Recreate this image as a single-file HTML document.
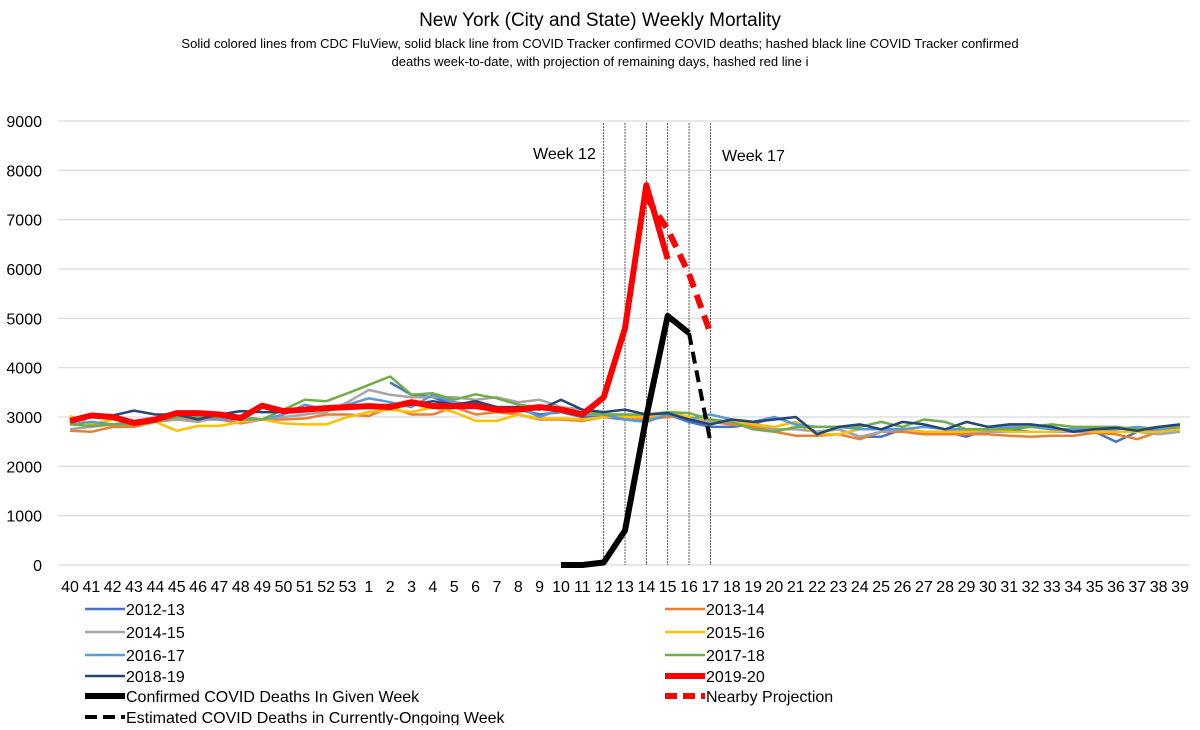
<!DOCTYPE html>
<html><head><meta charset="utf-8">
<style>
body{margin:0;background:#fff;font-family:"Liberation Sans",sans-serif;}
svg text{font-family:"Liberation Sans",sans-serif;fill:#000;}
</style></head>
<body>
<svg id="chart" width="1200" height="725" viewBox="0 0 1200 725" xmlns="http://www.w3.org/2000/svg">
<rect width="1200" height="725" fill="#fff"/>
<text x="600" y="26" font-size="19" text-anchor="middle">New York (City and State) Weekly Mortality</text>
<text x="600" y="48" font-size="13" text-anchor="middle">Solid colored lines from CDC FluView, solid black line from COVID Tracker confirmed COVID deaths; hashed black line COVID Tracker confirmed</text>
<text x="600" y="66" font-size="13" text-anchor="middle">deaths week-to-date, with projection of remaining days, hashed red line i</text>
<g id="grid"></g><g id="vlines"></g><g id="series"></g><g id="axes"></g><g id="legend"></g>
<text x="533" y="159" font-size="16">Week 12</text>
<text x="722" y="161" font-size="16">Week 17</text>
</svg>
<script>
const weeks=[40,41,42,43,44,45,46,47,48,49,50,51,52,53,1,2,3,4,5,6,7,8,9,10,11,12,13,14,15,16,17,18,19,20,21,22,23,24,25,26,27,28,29,30,31,32,33,34,35,36,37,38,39];
const yTicks=[0,1000,2000,3000,4000,5000,6000,7000,8000,9000];
const markerWeeks=[12,13,14,15,16,17];
const N=null;
const s1213=[N,N,N,N,N,N,N,N,N,N,N,N,N,N,N,3700,3450,3400,3250,3300,3200,3150,3050,3100,3000,3000,2950,2900,3050,2900,2800,2800,2850,3000,2850,2700,2750,2600,2600,2750,2700,2700,2600,2750,2750,2700,2700,2700,2700,2500,2700,2750,2800];
const s1314=[2720,2700,2800,2800,2900,2950,2950,2950,2870,2950,2950,2970,3050,3050,3020,3200,3050,3050,3200,3050,3100,3050,2950,2950,2920,3000,3000,2950,3000,3000,2900,2850,2800,2700,2620,2620,2650,2550,2700,2700,2650,2650,2650,2650,2620,2600,2620,2620,2680,2650,2550,2700,2750];
const s1415=[2750,2800,2850,2900,2900,2950,2900,3000,2950,2950,3000,3050,3100,3300,3550,3450,3400,3400,3400,3350,3400,3300,3350,3200,3150,3050,3050,3000,3050,3000,2900,2900,2850,2750,2750,2700,2750,2600,2700,2750,2700,2700,2700,2700,2700,2700,2700,2700,2700,2700,2700,2650,2700];
const s1516=[3020,2850,2950,2900,2900,2720,2820,2820,2900,2950,2870,2850,2850,3000,3100,3150,3100,3200,3100,2920,2920,3050,2970,2970,2950,3000,3000,3000,3100,3000,2950,2900,2850,2800,2900,2650,2650,2750,2750,2750,2700,2700,2700,2750,2700,2700,2700,2750,2700,2700,2700,2700,2750];
const s1617=[2850,2900,2850,2900,2950,3000,3000,2950,2950,2950,3050,3250,3150,3250,3380,3300,3200,3450,3300,3250,3200,3200,3000,3150,3050,3050,2950,2900,3050,2950,3050,2950,2900,3000,2850,2800,2800,2750,2750,2750,2800,2750,2750,2750,2800,2800,2750,2750,2750,2750,2800,2750,2800];
const s1718=[2850,2820,2850,2850,2900,3000,3000,3000,3000,2950,3150,3350,3320,3480,3650,3820,3450,3480,3350,3460,3380,3250,3200,3100,3100,3050,3050,3050,3100,3080,2950,2900,2750,2700,2800,2800,2800,2800,2900,2800,2950,2900,2750,2750,2750,2800,2850,2800,2800,2800,2750,2800,2800];
const s1819=[2900,3050,3030,3130,3050,3050,2950,3050,3120,3100,3100,3150,3150,3200,3200,3250,3250,3320,3250,3320,3200,3200,3150,3350,3150,3100,3150,3050,3080,2950,2850,2950,2900,2950,3000,2650,2800,2850,2750,2900,2850,2750,2900,2800,2850,2850,2800,2700,2750,2780,2720,2800,2850];
const s1920=[2920,3030,3000,2880,2950,3080,3080,3050,2980,3230,3120,3150,3180,3200,3220,3200,3300,3220,3220,3220,3150,3150,3200,3150,3050,3400,4800,7700,6200,N,N,N,N,N,N,N,N,N,N,N,N,N,N,N,N,N,N,N,N,N,N,N,N];
const projWeeks=[14,15,16,17];
const projVals=[7450,6800,5900,4700];
const covidWeeks=[10,11,12,13,14,15,16];
const covidVals=[0,0,50,700,3000,5050,4700];
const estWeeks=[16,17];
const estVals=[4700,2500];

const NS="http://www.w3.org/2000/svg";
const x0=70,dx=(1180-70)/(weeks.length-1),yBase=565,yTop=121,yMax=9000;
const X=i=>x0+i*dx;
const XW=w=>X(weeks.indexOf(w));
const Y=v=>yBase-(v/yMax)*(yBase-yTop);
function mk(tag,attrs,parent){const e=document.createElementNS(NS,tag);for(const k in attrs)e.setAttribute(k,attrs[k]);parent.appendChild(e);return e;}
const grid=document.getElementById('grid'),axes=document.getElementById('axes'),ser=document.getElementById('series'),vl=document.getElementById('vlines'),leg=document.getElementById('legend');
yTicks.forEach(t=>{
  const l=mk('line',{x1:58,x2:1190,y1:Y(t),y2:Y(t),stroke:'#d9d9d9','stroke-width':1.2},grid);
  
  
  const tx=mk('text',{x:42,y:Y(t)+6,'font-size':16,'text-anchor':'end'},axes);tx.textContent=t;
  
  
});
weeks.forEach((w,i)=>{
  const tx=mk('text',{x:X(i),y:592,'font-size':16,'text-anchor':'middle'},axes);tx.textContent=w;
  
  
});
markerWeeks.forEach(w=>{
  const l=mk('line',{x1:XW(w),x2:XW(w),y1:123,y2:565,stroke:'#333','stroke-width':0.8,'stroke-dasharray':'2,1'},vl);
  
  
});
function pathFrom(xs,ys){let d='',pen=false;xs.forEach((x,i)=>{const v=ys[i];if(v===null){pen=false;return;}d+=(pen?'L':'M')+x.toFixed(1)+','+Y(v).toFixed(1);pen=true;});return d;}
const idx=weeks.map((w,i)=>X(i));
const series=[
 ['2012-13',s1213,'#4472C4',2.5,''],['2013-14',s1314,'#ED7D31',2.5,''],['2014-15',s1415,'#A5A5A5',2.5,''],['2015-16',s1516,'#FFC000',2.5,''],
 ['2016-17',s1617,'#5B9BD5',2.5,''],['2017-18',s1718,'#70AD47',2.5,''],['2018-19',s1819,'#264478',2.5,''],['2019-20',s1920,'#FF0000',6,'']];
series.forEach(s=>{
  const p=mk('path',{d:pathFrom(idx,s[1]),fill:'none',stroke:s[2],'stroke-width':s[3],'stroke-linejoin':'round'},ser);
  
  
});
let p=mk('path',{d:pathFrom(projWeeks.map(XW),projVals),fill:'none',stroke:'#FF0000','stroke-width':6,'stroke-dasharray':'14,8'},ser);


p=mk('path',{d:pathFrom(covidWeeks.map(XW),covidVals),fill:'none',stroke:'#000','stroke-width':6,'stroke-linejoin':'round'},ser);


p=mk('path',{d:pathFrom(estWeeks.map(XW),estVals),fill:'none',stroke:'#000','stroke-width':4,'stroke-dasharray':'12,7'},ser);


const legItems=[
 ['2012-13','#4472C4',2.5,'',85,609],['2013-14','#ED7D31',2.5,'',665,609],
 ['2014-15','#A5A5A5',2.5,'',85,632],['2015-16','#FFC000',2.5,'',665,632],
 ['2016-17','#5B9BD5',2.5,'',85,655],['2017-18','#70AD47',2.5,'',665,655],
 ['2018-19','#264478',2.5,'',85,676],['2019-20','#FF0000',6,'',665,676],
 ['Confirmed COVID Deaths In Given Week','#000',6,'',85,696],['Nearby Projection','#FF0000',6,'12,6',665,696],
 ['Estimated COVID Deaths in Currently-Ongoing Week','#000',4,'12,6',85,717]];
legItems.forEach(it=>{
  const g=mk('g',{},leg);
  
  
  const a={x1:it[4],x2:it[4]+40,y1:it[5],y2:it[5],stroke:it[1],'stroke-width':it[2]};
  if(it[3])a['stroke-dasharray']=it[3];
  mk('line',a,g);
  const t=mk('text',{x:it[4]+41,y:it[5]+6,'font-size':16},g);t.textContent=it[0];
});
</script>
</body></html>
